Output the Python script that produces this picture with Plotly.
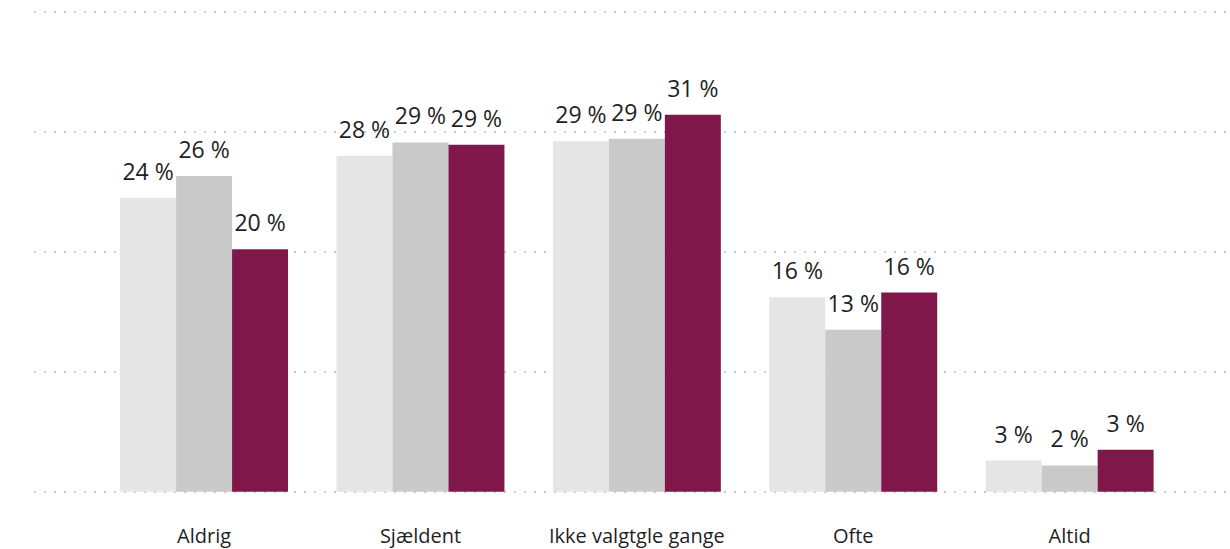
import plotly.graph_objects as go

# kategorier og værdier (procent)
categories = ["Aldrig", "Sjældent", "Ikke valgtgle gange", "Ofte", "Altid"]
series_names = ["Serie 1", "Serie 2", "Serie 3"]
values_1 = [24.5, 28.0, 29.2, 16.2, 2.6]
values_2 = [26.3, 29.1, 29.4, 13.5, 2.2]
values_3 = [20.2, 28.9, 31.4, 16.6, 3.5]
labels_1 = ["24 %", "28 %", "29 %", "16 %", "3 %"]
labels_2 = ["26 %", "29 %", "29 %", "13 %", "2 %"]
labels_3 = ["20 %", "29 %", "31 %", "16 %", "3 %"]

colors = ["#E5E5E5", "#C9C9C9", "#80174A"]
all_values = [values_1, values_2, values_3]
all_labels = [labels_1, labels_2, labels_3]

fig = go.Figure()

# søjler
for i in range(3):
    fig.add_trace(go.Bar(
        x=categories, y=all_values[i], name=series_names[i],
        marker=dict(color=colors[i], line=dict(width=0)),
        offsetgroup=str(i), showlegend=False, hoverinfo="skip"
    ))

# dataetiketter over søjlerne
for i in range(3):
    fig.add_trace(go.Scatter(
        x=categories, y=all_values[i], mode="markers+text",
        text=all_labels[i], textposition="top center",
        textfont=dict(size=23, color="#1F1F1F", family="Open Sans"),
        marker=dict(size=18, color="rgba(0,0,0,0)"),
        offsetgroup=str(i), cliponaxis=False,
        showlegend=False, hoverinfo="skip"
    ))

fig.update_layout(
    width=1230, height=549,
    margin=dict(l=34, r=0, t=8, b=53),
    plot_bgcolor="white", paper_bgcolor="white",
    barmode="group", bargap=0.224, bargroupgap=0,
    scattermode="group", scattergap=0.224,
    font=dict(family="Open Sans", color="#1F1F1F"),
)
fig.update_xaxes(
    type="category", range=[-0.786, 4.741],
    showgrid=False, zeroline=False, showline=False, ticks="",
    tickfont=dict(size=20, color="#1F1F1F"), ticklabelstandoff=29,
)
fig.update_yaxes(
    range=[-0.1, 40.3], tickvals=[0, 10, 20, 30, 40],
    showticklabels=False, zeroline=False, showline=False,
    showgrid=True, gridcolor="#C8C8C8", gridwidth=2, griddash="2px,8px",
)

# siden uden kant, så figuren fylder vinduet
fig.write_html("out.html", config={"displayModeBar": False},
               post_script="document.body.style.margin='0';")
